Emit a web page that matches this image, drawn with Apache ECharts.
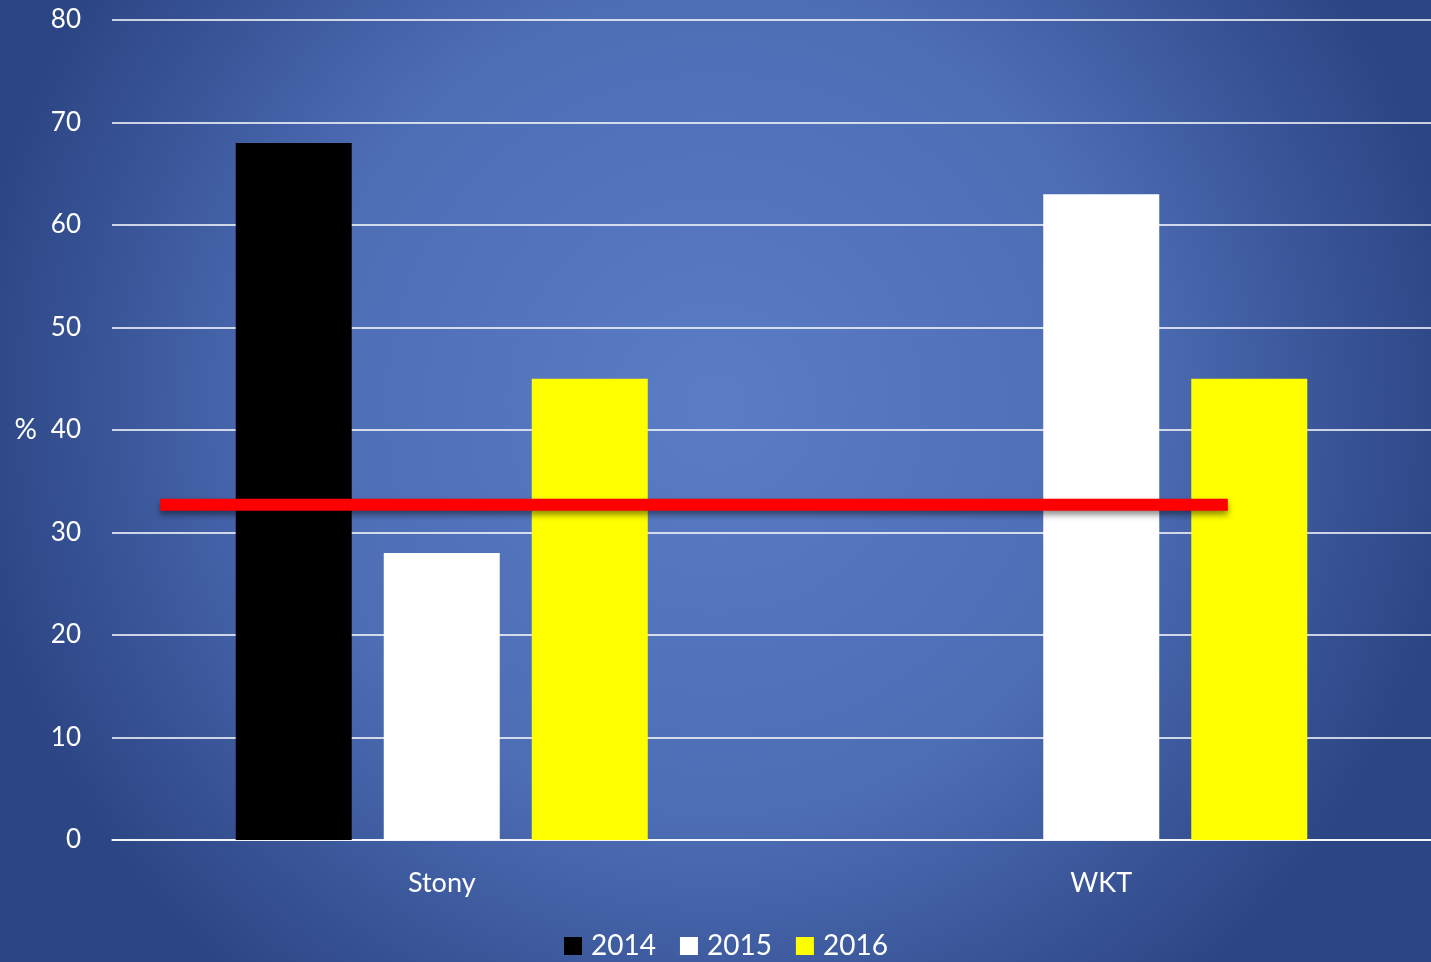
<!DOCTYPE html>
<html>
<head>
<meta charset="utf-8">
<script src="https://cdn.jsdelivr.net/npm/echarts@6/dist/echarts.min.js"></script>
<style>
  html, body { margin: 0; padding: 0; }
  #chart { width: 1431px; height: 962px; }
</style>
</head>
<body>
<div id="chart"></div>
<script>
// Sites and yearly percentages
const categories = ['Stony', 'WKT'];
const years = ['2014', '2015', '2016'];
const values2014 = [68, null];
const values2015 = [28, 63];
const values2016 = [45, 45];
const yearColors = ['#000000', '#ffffff', '#ffff00'];
const yTicks = { min: 0, max: 80, interval: 10 };

// Reference level drawn as a red bar across both sites (x in category units)
const targetValue = 32.7;
const targetSpan = [0.073, 1.692];

const font = 'Lato, "Open Sans", sans-serif';
const chart = echarts.init(document.getElementById('chart'));

const seriesValues = [values2014, values2015, values2016];
const barSeries = years.map((y, i) => ({
  name: y,
  type: 'bar',
  xAxisIndex: 0,
  data: seriesValues[i],
  barWidth: 116,
  barGap: '27.6%',
  itemStyle: { color: yearColors[i] },
  emphasis: { disabled: true }
}));

chart.setOption({
  animation: false,
  backgroundColor: {
    type: 'radial', x: 0.5, y: 0.42, r: 0.78,
    colorStops: [
      { offset: 0, color: '#5b7dc5' },
      { offset: 0.55, color: '#4d6db5' },
      { offset: 1, color: '#2c4584' }
    ]
  },
  grid: { left: 112, right: 0, top: 20, bottom: 122 },
  legend: {
    data: years,
    top: 927,
    left: 559,
    itemWidth: 18,
    itemHeight: 18,
    itemGap: 24,
    icon: 'rect',
    textStyle: { color: '#ffffff', fontSize: 28, fontFamily: font, padding: [0, 0, 0, 4] }
  },
  xAxis: [
    {
      type: 'category',
      data: categories,
      axisLine: { lineStyle: { color: '#ffffff', width: 1.5 } },
      axisTick: { show: false },
      axisLabel: { color: '#ffffff', fontSize: 27, fontFamily: font, margin: 30 }
    },
    { type: 'value', min: 0, max: 2, show: false }
  ],
  yAxis: {
    type: 'value',
    min: yTicks.min,
    max: yTicks.max,
    interval: yTicks.interval,
    name: '%',
    nameLocation: 'middle',
    nameRotate: 0,
    nameGap: 75,
    nameTextStyle: { color: '#ffffff', fontSize: 28, fontFamily: font, align: 'right' },
    axisLine: { show: false },
    axisTick: { show: false },
    axisLabel: { color: '#ffffff', fontSize: 26, fontFamily: font, margin: 31 },
    splitLine: { lineStyle: { color: '#ffffff', width: 1.5 } }
  },
  series: barSeries.concat([{
    type: 'line',
    xAxisIndex: 1,
    data: [[targetSpan[0], targetValue], [targetSpan[1], targetValue]],
    symbol: 'none',
    z: 5,
    lineStyle: {
      color: '#ff0000', width: 12, cap: 'butt',
      shadowColor: 'rgba(0,0,0,0.45)', shadowBlur: 6, shadowOffsetY: 4
    },
    silent: true
  }])
});
</script>
</body>
</html>
